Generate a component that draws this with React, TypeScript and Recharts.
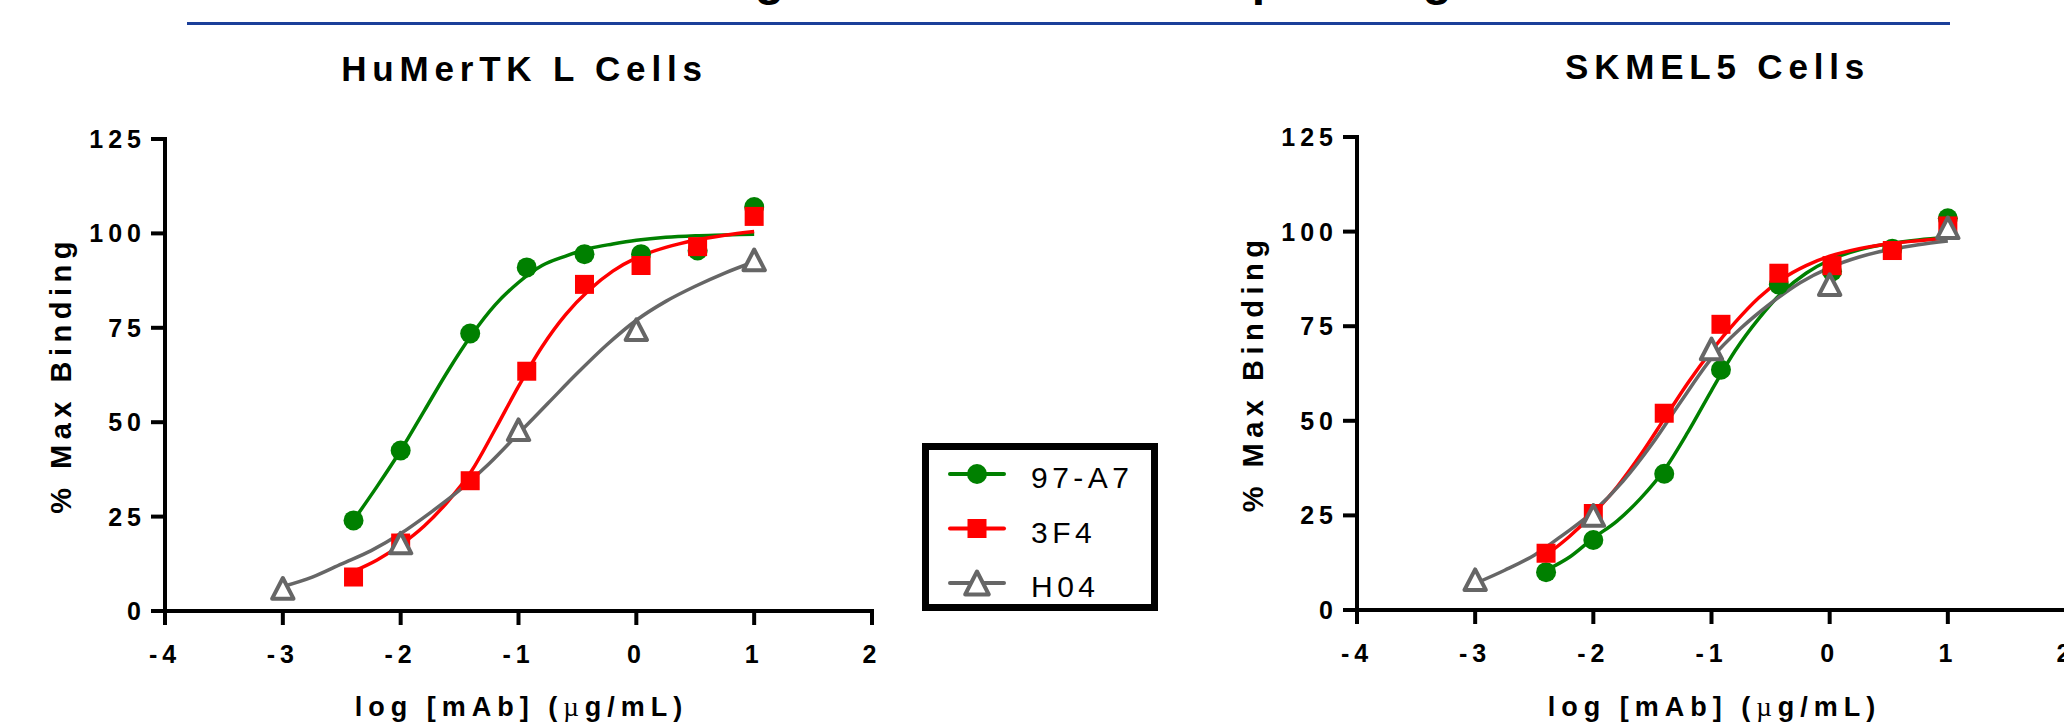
import React from "react";
import { ComposedChart, Line, Scatter, XAxis, YAxis, Legend } from "recharts";

const FONT = "'Liberation Sans', Arial, Helvetica, sans-serif";
const GREEN = "#008000";
const RED = "#ff0000";
const GRAY = "#666666";
const PAGE_W = 2064;
const PAGE_H = 726;
const X_AXIS_H = 60;
const Y_AXIS_W = 60;

const xTicks = [-4, -3, -2, -1, 0, 1, 2];
const yTicks = [0, 25, 50, 75, 100, 125];
const seriesNames = ["97-A7", "3F4", "H04"];

// HuMerTK L cells, measured points
const humDoseX = [-2.4, -2.0, -1.41, -0.93, -0.44, 0.04, 0.52, 1.0];
const hum97A7 = [24, 42.5, 73.5, 91, 94.5, 94.5, 95.5, 107];
const hum3F4 = [9, 18, 34.5, 63.5, 86.5, 91.5, 96.5, 104.5];
const humH04X = [-3, -2, -1, 0, 1];
const humH04 = [6, 18, 48, 74.5, 93];

// fitted curves at these x
const fitX = [-2.4, -2.2, -2.0, -1.8, -1.6, -1.4, -1.2, -1.0, -0.8, -0.6, -0.4, -0.2, 0, 0.25, 0.5, 0.75, 1];
const fitXH04 = [-3, -2.75, -2.5, -2.25, -2, -1.75, -1.5, -1.25, -1, -0.75, -0.5, -0.25, 0, 0.25, 0.5, 0.75, 1];
const humFit97A7 = [24, 33, 42.5, 53, 63.5, 73, 81, 87, 91.5, 94, 96, 97.2, 98.2, 99, 99.4, 99.6, 99.8];
const humFit3F4 = [10.5, 13.5, 17.5, 22.5, 29, 37, 48, 59.5, 70, 78.5, 85, 90, 93.5, 96.3, 98.2, 99.5, 100.5];
const humFitH04 = [6.5, 9, 12.5, 16, 20.5, 26, 32, 39, 47, 55, 63, 70.5, 77, 82, 86, 89.5, 92.5];

// SKMEL5 cells
const skDoseX = [-2.4, -2.0, -1.4, -0.92, -0.43, 0.02, 0.53, 1.0];
const sk97A7 = [10, 18.5, 36, 63.5, 86, 89.5, 95.5, 103.5];
const sk3F4 = [15, 25.5, 52, 75.5, 89, 91, 95, 101.5];
const skH04X = [-3, -2, -1, 0, 1];
const skH04 = [8, 25, 69, 86, 101];
const skFit97A7 = [10.5, 14, 19, 23.5, 29.5, 37, 47, 58, 68.5, 77, 84, 89, 92.5, 95.2, 96.8, 97.8, 98.5];
const skFit3F4 = [14.5, 19.5, 25.5, 32.5, 41, 50.5, 60, 68.5, 76, 82.5, 87.5, 91, 93.5, 95.5, 96.8, 97.6, 98.3];
const skFitH04 = [7, 10.5, 14.5, 20, 26, 34, 44, 55.5, 66.5, 74.5, 81, 86.5, 90.5, 93.3, 95.2, 96.5, 97.5];

const zip = (xs: number[], ys: number[]) => xs.map((x, i) => ({ x, y: ys[i] }));

type Kind = "circle" | "square" | "triangle";
type Series = { name: string; color: string; kind: Kind; fit: { x: number; y: number }[]; pts: { x: number; y: number }[] };

const humSeries: Series[] = [
  { name: seriesNames[0], color: GREEN, kind: "circle", fit: zip(fitX, humFit97A7), pts: zip(humDoseX, hum97A7) },
  { name: seriesNames[1], color: RED, kind: "square", fit: zip(fitX, humFit3F4), pts: zip(humDoseX, hum3F4) },
  { name: seriesNames[2], color: GRAY, kind: "triangle", fit: zip(fitXH04, humFitH04), pts: zip(humH04X, humH04) },
];
const skSeries: Series[] = [
  { name: seriesNames[0], color: GREEN, kind: "circle", fit: zip(fitX, skFit97A7), pts: zip(skDoseX, sk97A7) },
  { name: seriesNames[1], color: RED, kind: "square", fit: zip(fitX, skFit3F4), pts: zip(skDoseX, sk3F4) },
  { name: seriesNames[2], color: GRAY, kind: "triangle", fit: zip(fitXH04, skFitH04), pts: zip(skH04X, skH04) },
];

function Marker({ kind, cx, cy, big }: { kind: Kind; cx: number; cy: number; big?: boolean }) {
  if (kind === "circle") return <circle cx={cx} cy={cy} r={10} fill={GREEN} />;
  if (kind === "square") return <rect x={cx - 9.5} y={cy - 9.5} width={19} height={19} fill={RED} />;
  const hw = big ? 11.8 : 10.7;
  const hh = big ? 11.5 : 10.3;
  return (
    <path
      d={`M${cx},${cy - hh} L${cx + hw},${cy + hh} L${cx - hw},${cy + hh} Z`}
      fill="#fff"
      stroke={GRAY}
      strokeWidth={4}
      strokeLinejoin="round"
    />
  );
}

const XTick = ({ x, y, payload }: any) => (
  <text x={x} y={y + 18} textAnchor="middle" fontFamily={FONT} fontWeight={700} fontSize={25} letterSpacing={5} fill="#000">
    {payload.value}
  </text>
);

const YTick = ({ x, y, payload }: any) => (
  <text x={x} y={y + 9} textAnchor="end" fontFamily={FONT} fontWeight={700} fontSize={25} letterSpacing={5} fill="#000">
    {payload.value}
  </text>
);

function LegendBox({ series }: { series: Series[] }) {
  return (
    <svg width={236} height={168} style={{ display: "block" }}>
      <rect x={3.5} y={3.5} width={229} height={161} fill="#fff" stroke="#000" strokeWidth={7} />
      {series.map((s, i) => {
        const cy = 31 + i * 54.5;
        return (
          <g key={s.name}>
            <line x1={28} x2={82} y1={cy} y2={cy} stroke={s.color} strokeWidth={4} strokeLinecap="round" />
            <Marker kind={s.kind} cx={55} cy={cy} big />
            <text x={109} y={cy + 14} fontFamily={FONT} fontSize={30} letterSpacing={4.5} fill="#000">
              {s.name}
            </text>
          </g>
        );
      })}
    </svg>
  );
}

const AXIS = { stroke: "#000", strokeWidth: 4, strokeLinecap: "square" as const };
const TICK = { stroke: "#000", strokeWidth: 4 };

type Box = { l: number; r: number; t: number; b: number };

function Panel({ left, width, plot, series, legend }: { left: number; width: number; plot: Box; series: Series[]; legend?: boolean }) {
  const margin = {
    left: plot.l - left - Y_AXIS_W,
    right: left + width - plot.r,
    top: plot.t,
    bottom: PAGE_H - plot.b - X_AXIS_H,
  };
  return (
    <div style={{ position: "absolute", left, top: 0 }}>
      <ComposedChart width={width} height={PAGE_H} margin={margin}>
        <XAxis
          type="number"
          dataKey="x"
          domain={[-4, 2]}
          ticks={xTicks}
          interval={0}
          height={X_AXIS_H}
          tickSize={14}
          tickMargin={20}
          tick={<XTick />}
          axisLine={AXIS}
          tickLine={TICK}
          allowDataOverflow
        />
        <YAxis
          type="number"
          dataKey="y"
          domain={[0, 125]}
          ticks={yTicks}
          interval={0}
          width={Y_AXIS_W}
          tickSize={14}
          tickMargin={5}
          tick={<YTick />}
          axisLine={AXIS}
          tickLine={TICK}
          allowDataOverflow
        />
        {series.map((s) => [
          <Line
            key={s.name + "-fit"}
            data={s.fit}
            dataKey="y"
            type="monotone"
            stroke={s.color}
            strokeWidth={3.5}
            dot={false}
            activeDot={false}
            legendType="none"
            isAnimationActive={false}
          />,
          <Scatter
            key={s.name + "-pts"}
            name={s.name}
            data={s.pts}
            dataKey="y"
            fill={s.color}
            shape={(p: any) => <Marker kind={s.kind} cx={p.cx} cy={p.cy} />}
            isAnimationActive={false}
          />,
        ])}
        {legend && (
          <Legend
            layout="vertical"
            align="center"
            verticalAlign="middle"
            wrapperStyle={{ left: 922, top: 443, width: 236, height: 168 }}
            content={() => <LegendBox series={series} />}
          />
        )}
      </ComposedChart>
    </div>
  );
}

const titleStyle = { fontFamily: FONT, fontWeight: 700, fill: "#000" };

function PanelLabels({ plot, title, titleY }: { plot: Box; title: string; titleY: number }) {
  const cx = (plot.l + plot.r) / 2;
  return (
    <g>
      <text x={cx + 6} y={titleY} textAnchor="middle" fontSize={35} letterSpacing={5.8} {...titleStyle}>
        {title}
      </text>
      <text
        transform={`translate(${plot.l - 94}, ${(plot.t + plot.b) / 2}) rotate(-90)`}
        textAnchor="middle"
        fontSize={29}
        letterSpacing={5.5}
        {...titleStyle}
      >
        % Max Binding
      </text>
      <text x={cx + 3} y={716} textAnchor="middle" fontSize={27} letterSpacing={6} {...titleStyle}>
        log [mAb] (
        <tspan fontFamily="'Liberation Serif', serif" fontWeight={400}>
          µ
        </tspan>
        g/mL)
      </text>
    </g>
  );
}

const leftPlot: Box = { l: 165, r: 872, t: 139, b: 611 };
const rightPlot: Box = { l: 1357, r: 2066, t: 137, b: 610 };

export default function App() {
  return (
    <div style={{ position: "absolute", left: 0, top: 0, width: PAGE_W, height: PAGE_H, overflow: "hidden", background: "#fff" }}>
      <svg width={PAGE_W} height={PAGE_H} style={{ position: "absolute", left: 0, top: 0 }}>
        {/* main title sits mostly above the visible area */}
        <text y={-5} fontSize={48} {...titleStyle}>
          <tspan x={784} textAnchor="end">
            Anti-MerTK mAb Binding
          </tspan>
          <tspan x={830}>to Human Cells</tspan>
          <tspan x={1193}>Expressing MerTK</tspan>
        </text>
        <line x1={187} x2={1950} y1={23.5} y2={23.5} stroke="#1b3f99" strokeWidth={3} />
        <PanelLabels plot={leftPlot} title="HuMerTK L Cells" titleY={80.5} />
        <PanelLabels plot={rightPlot} title="SKMEL5 Cells" titleY={78.5} />
      </svg>
      <Panel left={0} width={1200} plot={leftPlot} series={humSeries} legend />
      <Panel left={1200} width={900} plot={rightPlot} series={skSeries} />
    </div>
  );
}
